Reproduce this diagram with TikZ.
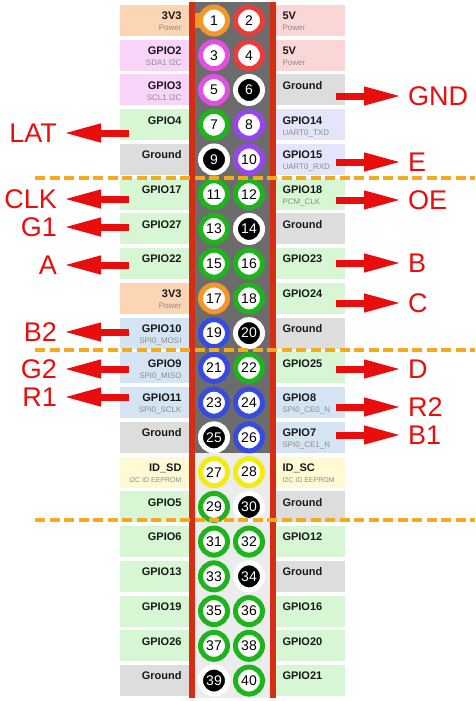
\documentclass[tikz,border=0pt]{standalone}
\usepackage{fontspec}
\setmainfont{Liberation Sans}
\usetikzlibrary{calc}
\usetikzlibrary{arrows.meta}
\definecolor{sigRed}{RGB}{232,14,14}
\definecolor{dashOrange}{RGB}{245,170,30}
\definecolor{barRed}{RGB}{214,46,18}
\definecolor{stripDark}{RGB}{108,108,108}
\definecolor{stripLight}{RGB}{236,236,236}
\definecolor{subGrey}{RGB}{140,140,140}
\definecolor{pwrABox}{RGB}{252,213,180}
\definecolor{pwrARing}{RGB}{245,150,40}
\definecolor{pwrBBox}{RGB}{250,214,214}
\definecolor{pwrBRing}{RGB}{235,60,60}
\definecolor{iicBox}{RGB}{248,212,248}
\definecolor{iicRing}{RGB}{225,80,225}
\definecolor{gndBox}{RGB}{221,221,221}
\definecolor{gpioBox}{RGB}{214,246,212}
\definecolor{gpioRing}{RGB}{30,180,30}
\definecolor{uartBox}{RGB}{228,228,250}
\definecolor{uartRing}{RGB}{150,70,240}
\definecolor{spiBox}{RGB}{212,228,242}
\definecolor{spiRing}{RGB}{55,75,225}
\definecolor{eepBox}{RGB}{255,250,212}
\definecolor{eepRing}{RGB}{242,235,20}
\newcommand\eepfont{\fontsize{7}{7}\selectfont}

\begin{document}
\begin{tikzpicture}[x=1pt, y=-1pt,
	Pfeil/.style={draw=sigRed, line width=7pt, arrows={-Triangle[length=38pt, width=17pt]}, shorten >=6pt},
	Kasten/.style={minimum width=68.5pt, minimum height=31pt, inner sep=0pt},
	Haupt/.style={font=\fontsize{11}{11}\selectfont\bfseries, text=black!90, inner sep=0pt},
	Unter/.style={font=\fontsize{8}{8}\selectfont, text=subGrey, inner sep=0pt},
	Pin/.style={circle, line width=5pt, minimum size=27pt, inner sep=0pt, fill=white, font=\fontsize{14}{14}\selectfont},
	Marke/.style={text=sigRed, font=\fontsize{27}{27}\selectfont, inner sep=0pt},
	Trenner/.style={draw=dashOrange, line width=3.5pt, dash pattern=on 10pt off 4.5pt},
	pwrA/.style={draw=pwrARing}, pwrB/.style={draw=pwrBRing}, iic/.style={draw=iicRing},
	gpio/.style={draw=gpioRing}, uart/.style={draw=uartRing}, spi/.style={draw=spiRing},
	eep/.style={draw=eepRing}, gnd/.style={draw=white, fill=black, text=white}]
				\useasboundingbox (0,0) rectangle (475,701);
				% header strip
				\fill[stripDark] (195,2) rectangle (270,453);
				\fill[stripLight] (195,453) rectangle (270,698);
				\fill[barRed] (189,2) rectangle (195,698);
				\fill[barRed] (270,2) rectangle (276,698);
				\fill[pwrARing] (195,13) rectangle (210,28);
				% rows: left box, pins, right box
				\foreach \i/\lt/\ls/\lc/\rt/\rs/\rc in {
					0/3V3/Power/pwrA/5V/Power/pwrB,
					1/GPIO2/SDA1 I2C/iic/5V/Power/pwrB,
					2/GPIO3/SCL1 I2C/iic/Ground//gnd,
					3/GPIO4//gpio/GPIO14/UART0\_TXD/uart,
					4/Ground//gnd/GPIO15/UART0\_RXD/uart,
					5/GPIO17//gpio/GPIO18/PCM\_CLK/gpio,
					6/GPIO27//gpio/Ground//gnd,
					7/GPIO22//gpio/GPIO23//gpio,
					8/3V3/Power/pwrA/GPIO24//gpio,
					9/GPIO10/SPI0\_MOSI/spi/Ground//gnd,
					10/GPIO9/SPI0\_MISO/spi/GPIO25//gpio,
					11/GPIO11/SPI0\_SCLK/spi/GPIO8/SPI0\_CE0\_N/spi,
					12/Ground//gnd/GPIO7/SPI0\_CE1\_N/spi,
					13/ID\_SD/\eepfont I2C ID EEPROM/eep/ID\_SC/\eepfont I2C ID EEPROM/eep,
					14/GPIO5//gpio/Ground//gnd,
					15/GPIO6//gpio/GPIO12//gpio,
					16/GPIO13//gpio/Ground//gnd,
					17/GPIO19//gpio/GPIO16//gpio,
					18/GPIO26//gpio/GPIO20//gpio,
					19/Ground//gnd/GPIO21//gpio}{
					\pgfmathsetmacro\y{20.5+34.74*\i}
					\pgfmathtruncatemacro\a{2*\i+1}
					\pgfmathtruncatemacro\b{2*\i+2}
					\node[Kasten, fill=\lc Box] (L\a) at (154.25,\y) {};
					\node[Kasten, fill=\rc Box] (R\b) at (310.25,\y) {};
					\node[Haupt, anchor=base east] (Lt\a) at ($(L\a.north east)+(-7,15)$) {\lt};
					\node[Unter, anchor=base east] (Ls\a) at ($(L\a.north east)+(-7,26)$) {\ls};
					\node[Haupt, anchor=base west] (Rt\b) at ($(R\b.north west)+(6.5,15)$) {\rt};
					\node[Unter, anchor=base west] (Rs\b) at ($(R\b.north west)+(6.5,26)$) {\rs};
					\node[Pin, \lc] (P\a) at (214,\y) {\a};
					\node[Pin, \rc] (P\b) at (249,\y) {\b};
				}
				% dashed separators
				\draw[Trenner] (35,178) -- (475,178);
				\draw[Trenner] (35,350) -- (475,350);
				\draw[Trenner] (35,520) -- (475,520);
				% signal arrows
				\foreach \n/\y in {LAT/133, CLK/199, G1/227, A/265, B2/332, G2/369, R1/397}{
					\coordinate (s\n) at (129,\y);
					\node[Marke, anchor=east] (\n) at (57,\y) {\n};
					\draw[Pfeil] (s\n) -- (\n);
				}
				\foreach \n/\y in {GND/96, E/162, OE/200, B/263, C/303, D/369, R2/407, B1/435}{
					\coordinate (s\n) at (336,\y);
					\node[Marke, anchor=west] (\n) at (408,\y) {\n};
					\draw[Pfeil] (s\n) -- (\n);
				}
			\end{tikzpicture}
\end{document}
